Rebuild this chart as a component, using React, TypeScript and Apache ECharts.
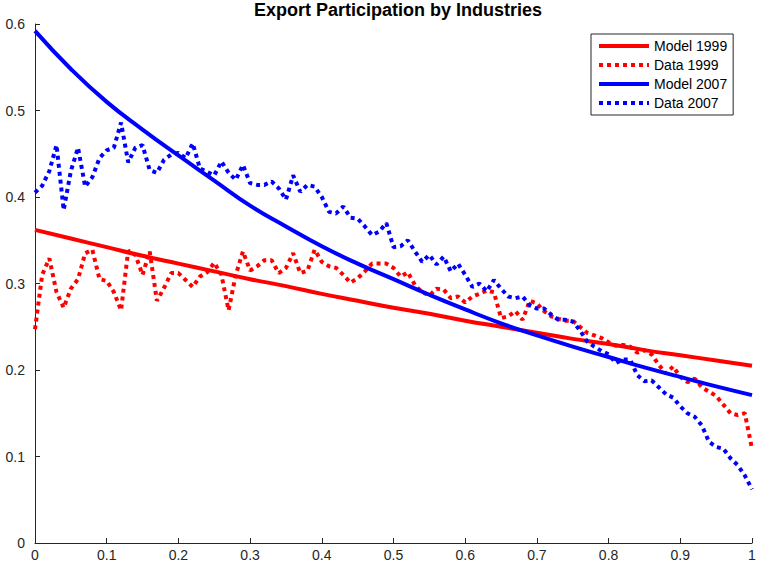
import React, { useEffect, useRef } from "react";
import * as echarts from "echarts";

const title = "Export Participation by Industries";
const seriesNames = ["Model 1999", "Data 1999", "Model 2007", "Data 2007"];

// Model curves sampled at x = 0, 0.05, ..., 1
const modelX = [0, 0.05, 0.1, 0.15, 0.2, 0.25, 0.3, 0.35, 0.4, 0.45, 0.5, 0.55, 0.6, 0.65, 0.7, 0.75, 0.8, 0.85, 0.9, 0.95, 1];
const model1999 = [0.362, 0.352, 0.342, 0.332, 0.323, 0.314, 0.305, 0.297, 0.288, 0.28, 0.272, 0.265, 0.257, 0.25, 0.243, 0.236, 0.23, 0.223, 0.217, 0.211, 0.205];
const model2007 = [0.592, 0.548, 0.51, 0.478, 0.448, 0.419, 0.39, 0.366, 0.343, 0.323, 0.305, 0.287, 0.27, 0.254, 0.24, 0.227, 0.215, 0.203, 0.192, 0.181, 0.171];

// Data sampled at x = 0, 0.01, ..., 1
const data1999 = [
  0.247, 0.31, 0.329, 0.29, 0.272, 0.294, 0.305, 0.335, 0.339, 0.305,
  0.303, 0.29, 0.269, 0.338, 0.333, 0.31, 0.337, 0.28, 0.295, 0.312,
  0.312, 0.304, 0.296, 0.308, 0.313, 0.324, 0.31, 0.269, 0.31, 0.337,
  0.315, 0.32, 0.327, 0.327, 0.312, 0.318, 0.335, 0.312, 0.315, 0.339,
  0.325, 0.32, 0.318, 0.31, 0.301, 0.306, 0.314, 0.323, 0.323, 0.323,
  0.318, 0.308, 0.313, 0.298, 0.29, 0.286, 0.294, 0.293, 0.283, 0.285,
  0.278, 0.285, 0.288, 0.292, 0.29, 0.26, 0.262, 0.268, 0.258, 0.28,
  0.277, 0.268, 0.262, 0.259, 0.257, 0.257, 0.25, 0.243, 0.24, 0.237,
  0.232, 0.228, 0.229, 0.227, 0.22, 0.223, 0.218, 0.206, 0.196, 0.204,
  0.192, 0.186, 0.19, 0.18, 0.175, 0.17, 0.16, 0.15, 0.148, 0.15,
  0.109,
];
const data2007 = [
  0.405, 0.413, 0.43, 0.46, 0.385, 0.43, 0.457, 0.412, 0.423, 0.445,
  0.454, 0.457, 0.486, 0.44, 0.457, 0.46, 0.431, 0.428, 0.443, 0.449,
  0.451, 0.445, 0.462, 0.433, 0.429, 0.425, 0.441, 0.428, 0.42, 0.437,
  0.416, 0.414, 0.414, 0.418, 0.41, 0.397, 0.425, 0.406, 0.414, 0.412,
  0.4, 0.383, 0.381, 0.389, 0.376, 0.375, 0.366, 0.356, 0.36, 0.37,
  0.342, 0.343, 0.35, 0.337, 0.325, 0.333, 0.322, 0.331, 0.314, 0.323,
  0.31, 0.296, 0.3, 0.291, 0.304, 0.294, 0.285, 0.283, 0.285, 0.275,
  0.271, 0.271, 0.264, 0.258, 0.258, 0.256, 0.246, 0.233, 0.227, 0.222,
  0.218, 0.208, 0.212, 0.212, 0.194, 0.187, 0.188, 0.18, 0.172, 0.168,
  0.158, 0.15, 0.146, 0.136, 0.117, 0.111, 0.109, 0.098, 0.09, 0.078,
  0.062,
];

const RED = "#ff0000";
const BLUE = "#0000ff";
const AXIS = "#262626";
const FONT = "Liberation Sans, Arial, sans-serif";

export default function App() {
  const ref = useRef<HTMLDivElement>(null);
  useEffect(() => {
    if (!ref.current) return;
    const chart = echarts.init(ref.current, undefined, { renderer: "svg" });
    const pairs = (ys: number[], xs?: number[]) =>
      ys.map((y, i) => [xs ? xs[i] : i / (ys.length - 1), y]);
    const dotted = [4, 4];
    const fmt = (v: number) => String(Math.round(v * 10) / 10);
    chart.setOption({
      animation: false,
      backgroundColor: "#ffffff",
      title: {
        text: title,
        left: 393,
        textAlign: "center",
        top: 0,
        padding: [1, 5, 5, 5],
        textStyle: { fontFamily: FONT, fontSize: 18, fontWeight: "bold", color: "#000" },
      },
      legend: {
        orient: "vertical",
        left: 591,
        top: 34,
        padding: [5, 6, 5, 6],
        itemWidth: 50,
        itemHeight: 14,
        itemGap: 5,
        backgroundColor: "#fff",
        borderColor: AXIS,
        borderWidth: 1,
        borderRadius: 0,
        itemStyle: { color: "rgba(0,0,0,0)", borderWidth: 0, opacity: 0 },
        lineStyle: { width: 4 },
        textStyle: { fontFamily: FONT, fontSize: 14, color: "#000" },
        data: seriesNames,
      },
      grid: { left: 35, right: 7, top: 24, bottom: 23, containLabel: false },
      xAxis: {
        type: "value",
        min: 0,
        max: 1,
        interval: 0.1,
        axisLine: { show: true, lineStyle: { color: AXIS, width: 1 } },
        axisTick: { show: true, inside: true, length: 5, lineStyle: { color: AXIS } },
        axisLabel: { fontFamily: FONT, fontSize: 14, color: AXIS, margin: 5, formatter: fmt },
        splitLine: { show: false },
      },
      yAxis: {
        type: "value",
        min: 0,
        max: 0.6,
        interval: 0.1,
        axisLine: { show: true, lineStyle: { color: AXIS, width: 1 } },
        axisTick: { show: true, inside: true, length: 5, lineStyle: { color: AXIS } },
        axisLabel: { fontFamily: FONT, fontSize: 14, color: AXIS, margin: 10, formatter: fmt },
        splitLine: { show: false },
      },
      series: [
        {
          name: seriesNames[0],
          type: "line",
          data: pairs(model1999, modelX),
          smooth: true,
          showSymbol: false,
          symbol: "none",
          lineStyle: { color: RED, width: 4 },
          itemStyle: { color: RED },
          z: 2,
        },
        {
          name: seriesNames[1],
          type: "line",
          data: pairs(data1999),
          showSymbol: false,
          symbol: "none",
          lineStyle: { color: RED, width: 4, type: dotted, cap: "butt" },
          itemStyle: { color: RED },
          z: 3,
        },
        {
          name: seriesNames[2],
          type: "line",
          data: pairs(model2007, modelX),
          smooth: true,
          showSymbol: false,
          symbol: "none",
          lineStyle: { color: BLUE, width: 4 },
          itemStyle: { color: BLUE },
          z: 4,
        },
        {
          name: seriesNames[3],
          type: "line",
          data: pairs(data2007),
          showSymbol: false,
          symbol: "none",
          lineStyle: { color: BLUE, width: 4, type: dotted, cap: "butt" },
          itemStyle: { color: BLUE },
          z: 5,
        },
      ],
    });
    return () => chart.dispose();
  }, []);
  return <div ref={ref} style={{ width: 759, height: 566, position: "fixed", left: 0, top: 0 }} />;
}
